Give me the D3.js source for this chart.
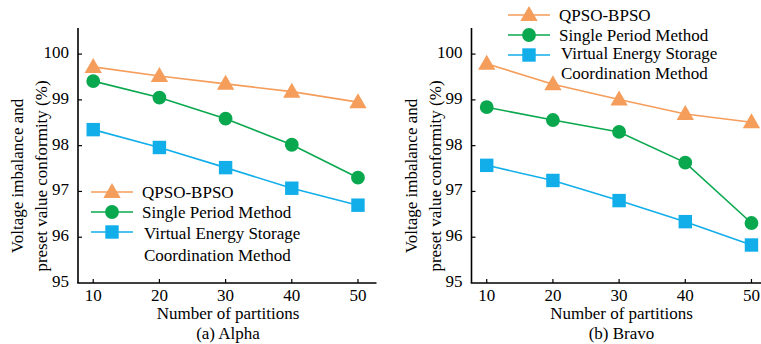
<!DOCTYPE html>
<html>
<head>
<meta charset="utf-8">
<script src="https://cdn.jsdelivr.net/npm/d3@7/dist/d3.min.js"></script>
<style>
  body { margin: 0; background: #fff; }
</style>
</head>
<body>
<div id="chart"></div>
<script>
// Données
const partitions = [10, 20, 30, 40, 50];
const seriesNames = ["QPSO-BPSO", "Single Period Method", "Virtual Energy Storage"];
const alphaQpso = [99.72, 99.52, 99.35, 99.18, 98.95];
const alphaSingle = [99.41, 99.05, 98.59, 98.02, 97.30];
const alphaVirtual = [98.35, 97.96, 97.52, 97.07, 96.70];
const bravoQpso = [99.79, 99.34, 99.01, 98.69, 98.51];
const bravoSingle = [98.84, 98.56, 98.30, 97.63, 96.31];
const bravoVirtual = [97.57, 97.24, 96.80, 96.34, 95.83];
const yTicks = [95, 96, 97, 98, 99, 100];

const colors = ["#f59d5b", "#0aa84e", "#12aeea"];
const markers = [d3.symbolTriangle, d3.symbolCircle, d3.symbolSquare];
const markerSize = [130, 150, 180];
const FONT = "'Liberation Serif', 'Times New Roman', 'DejaVu Serif', serif";
const FS = "17px";

const W = 761, H = 344;
const svg = d3.select("#chart").append("svg").attr("width", W).attr("height", H)
    .attr("font-family", FONT).style("font-family", FONT);

function txt(g) {
    return g.append("text").attr("font-family", FONT).style("font-size", FS).attr("fill", "#000");
}

function drawPanel(opts) {
    const x = d3.scaleLinear().domain([7.7, 52.8]).range([opts.left, opts.left + 298.5]);
    const y = d3.scaleLinear().domain([95, 100.57]).range([283, 28]);
    const g = svg.append("g");

    // Axes
    g.append("line").attr("x1", opts.left).attr("x2", opts.left).attr("y1", 28).attr("y2", 283)
        .attr("stroke", "#000").attr("stroke-width", 1.6);
    g.append("line").attr("x1", opts.left - 0.8).attr("x2", opts.left + 298.5).attr("y1", 283).attr("y2", 283)
        .attr("stroke", "#000").attr("stroke-width", 1.6);

    // Graduations Y (vers l'intérieur)
    yTicks.forEach(t => {
        if (t !== 95) g.append("line").attr("x1", opts.left).attr("x2", opts.left + 4)
            .attr("y1", y(t)).attr("y2", y(t)).attr("stroke", "#000").attr("stroke-width", 1.2);
        txt(g).attr("x", opts.left - 9).attr("y", y(t) - 2).attr("dy", "0.35em")
            .attr("text-anchor", "end").text(t);
    });
    // Graduations X
    partitions.forEach(t => {
        g.append("line").attr("x1", x(t)).attr("x2", x(t)).attr("y1", 283).attr("y2", 279)
            .attr("stroke", "#000").attr("stroke-width", 1.2);
        txt(g).attr("x", x(t)).attr("y", 301).attr("text-anchor", "middle").text(t);
    });

    // Titres
    txt(g).attr("x", opts.left + 150).attr("y", 319).attr("text-anchor", "middle").text("Number of partitions");
    txt(g).attr("x", opts.left + 150).attr("y", 339).attr("text-anchor", "middle").text(opts.caption);
    const yt = txt(g).attr("transform", `translate(${opts.left - 55},176) rotate(-90)`)
        .attr("text-anchor", "middle");
    yt.append("tspan").attr("x", 0).attr("dy", 0).text("Voltage imbalance and");
    yt.append("tspan").attr("x", 0).attr("dy", 24).text("preset value conformity (%)");

    // Séries
    const line = d3.line().x((d, i) => x(partitions[i])).y(d => y(d));
    opts.series.forEach((vals, k) => {
        g.append("path").datum(vals).attr("d", line).attr("fill", "none")
            .attr("stroke", colors[k]).attr("stroke-width", 1.6);
        g.selectAll(null).data(vals).enter().append("path")
            .attr("d", d3.symbol().type(markers[k]).size(markerSize[k]))
            .attr("transform", (d, i) => `translate(${x(partitions[i])},${y(d) + (k === 0 ? 1 : 0)})`)
            .attr("fill", colors[k]);
    });

    // Légende
    const lg = opts.legend;
    seriesNames.forEach((name, k) => {
        const ly = lg.y + k * lg.step;
        g.append("line").attr("x1", lg.x).attr("x2", lg.x + 42).attr("y1", ly).attr("y2", ly)
            .attr("stroke", colors[k]).attr("stroke-width", 1.6);
        g.append("path").attr("d", d3.symbol().type(markers[k]).size(markerSize[k]))
            .attr("transform", `translate(${lg.x + 21},${ly + (k === 0 ? 1 : 0)})`).attr("fill", colors[k]);
        txt(g).attr("x", lg.x + 51 + (k === 2 ? 2 : 0)).attr("y", ly + (k === 2 ? lg.vOff : 0))
            .attr("dy", "0.35em").text(name);
    });
    txt(g).attr("x", lg.x + 53).attr("y", lg.y + 2 * lg.step + lg.vOff + lg.gap).attr("dy", "0.35em")
        .text("Coordination Method");
}

drawPanel({
    left: 78, caption: "(a) Alpha",
    series: [alphaQpso, alphaSingle, alphaVirtual],
    legend: { x: 91, y: 192, step: 20, vOff: 1, gap: 22 }
});
drawPanel({
    left: 471.5, caption: "(b) Bravo",
    series: [bravoQpso, bravoSingle, bravoVirtual],
    legend: { x: 508, y: 15, step: 20, vOff: -2, gap: 20 }
});
</script>
</body>
</html>
